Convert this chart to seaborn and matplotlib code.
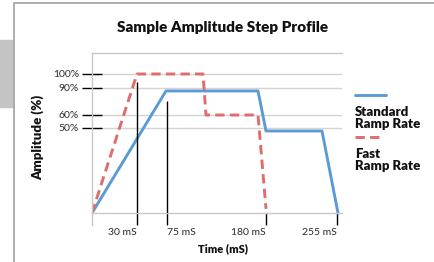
import matplotlib
matplotlib.use("Agg")
import matplotlib.pyplot as plt
from matplotlib.lines import Line2D
from matplotlib.patches import Rectangle
import seaborn as sns
import pandas as pd

# schematic chart: positions are read off the picture (not to scale)
std_time = [0, 74, 166, 174, 230, 246]
std_amp = [0, 87.8, 87.8, 59, 59, 0]
fast_time = [0, 45, 111, 114, 166, 174]
fast_amp = [0, 100, 100, 70.5, 70.5, 3]

x_ticks = [45, 75, 174, 245]
x_labels = ["30 mS", "75 mS", "180 mS", "255 mS"]
x_label_ha = ["right", "left", "right", "right"]
y_ticks = [100, 90, 70.5, 61.2]
y_labels = ["100%", "90%", "60%", "50%"]
# black markers up from the axis at 30 mS and 75 mS
marker_time = [45, 75]
marker_top = [94, 80.6]

blue = "#5b9bd5"
red = "#e06c6c"

df = pd.concat([
    pd.DataFrame({"time": std_time, "amp": std_amp, "series": "Standard"}),
    pd.DataFrame({"time": fast_time, "amp": fast_amp, "series": "Fast"}),
])

sns.set_style("white")
plt.rcParams["font.family"] = ["Lato", "DejaVu Sans"]

fig = plt.figure(figsize=(4.34, 2.62), dpi=100)
ax = fig.add_axes([92 / 434, 49 / 262, 250 / 434, 160 / 262])

sns.lineplot(data=df, x="time", y="amp", hue="series", style="series",
             palette={"Standard": blue, "Fast": red},
             dashes={"Standard": "", "Fast": (3.2, 1.8)},
             sort=False, estimator=None, linewidth=2.1, legend=False, ax=ax)

ax.vlines(marker_time, 0, marker_top, color="black", lw=1, zorder=3)

ax.set_xlim(0, 250)
ax.set_ylim(0, 115.1)
ax.set_xticks(x_ticks)
ax.set_xticklabels(x_labels)
for lab, ha in zip(ax.get_xticklabels(), x_label_ha):
    lab.set_ha(ha)
ax.set_yticks(y_ticks)
ax.set_yticklabels(y_labels)
ax.yaxis.grid(True, color="#d4d4d4", lw=1)
ax.xaxis.grid(False)

ax.tick_params(axis="y", left=True, direction="inout", length=14, width=1,
               color="black", pad=2.4, labelsize=7.5, labelcolor="#2a2a2a")
ax.tick_params(axis="x", bottom=True, direction="out", length=8.6, width=1,
               color="black", pad=2, labelsize=7.5, labelcolor="#2a2a2a")

for s in ["top", "bottom", "left"]:
    ax.spines[s].set_color("#c8c8c8")
    ax.spines[s].set_linewidth(1)
ax.spines["right"].set_visible(False)
ax.spines["left"].set_bounds(-8.6, 115.1)

ax.set_xlabel("")
ax.set_ylabel("")
fig.text(223 / 434, 1 - 28 / 262, "Sample Amplitude Step Profile",
         ha="center", va="center", fontsize=11, fontweight="heavy", color="#111111")
fig.text(223 / 434, 1 - 249 / 262, "Time (mS)", ha="center", va="center",
         fontsize=8, fontweight="heavy", color="#111111")
fig.text(38 / 434, 1 - 137 / 262, "Amplitude (%)", ha="center", va="center",
         rotation=90, fontsize=9.5, fontweight="heavy", color="#111111")

# legend drawn by hand: line above the text
fig.add_artist(Line2D([355 / 434, 386 / 434], [1 - 95 / 262] * 2, color=blue, lw=2.1))
fig.text(355 / 434, 1 - 118 / 262, "Standard\nRamp Rate", ha="left", va="center",
         fontsize=9.5, fontweight="heavy", color="#111111", linespacing=1.1)
fig.add_artist(Line2D([355 / 434, 384 / 434], [1 - 137 / 262] * 2, color=red, lw=2.1,
                      dashes=(3.2, 1.8)))
fig.text(355 / 434, 1 - 160 / 262, "Fast\nRamp Rate", ha="left", va="center",
         fontsize=9.5, fontweight="heavy", color="#111111", linespacing=1.1)

# page frame around the chart
fig.add_artist(Rectangle((0, 1 - 107 / 262), 13 / 434, 67 / 262,
                         color="#c4c4c4", transform=fig.transFigure))
fig.add_artist(Line2D([14 / 434, 14 / 434], [0, 1 - 3 / 262], color="#a8a8a8", lw=1.3))
fig.add_artist(Line2D([14 / 434, 1], [1 - 3 / 262] * 2, color="#a8a8a8", lw=1.3))

fig.savefig("out.png", dpi=100)
